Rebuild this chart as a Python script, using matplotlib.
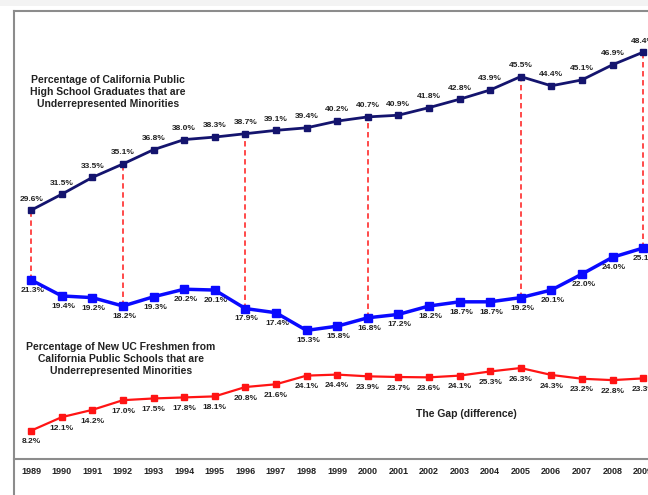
import matplotlib.pyplot as plt
from matplotlib.lines import Line2D
from matplotlib.patches import Rectangle

# Data
years = list(range(1989, 2010))
hs_grads = [29.6, 31.5, 33.5, 35.1, 36.8, 38.0, 38.3, 38.7, 39.1, 39.4, 40.2,
            40.7, 40.9, 41.8, 42.8, 43.9, 45.5, 44.4, 45.1, 46.9, 48.4]
uc_fresh = [21.3, 19.4, 19.2, 18.2, 19.3, 20.2, 20.1, 17.9, 17.4, 15.3, 15.8,
            16.8, 17.2, 18.2, 18.7, 18.7, 19.2, 20.1, 22.0, 24.0, 25.1]
gap = [8.2, 12.1, 14.2, 17.0, 17.5, 17.8, 18.1, 20.8, 21.6, 24.1, 24.4,
       23.9, 23.7, 23.6, 24.1, 25.3, 26.3, 24.3, 23.2, 22.8, 23.3]
gap_years = [1989, 1992, 1996, 2000, 2005, 2009]

W, H = 648, 495
fig = plt.figure(figsize=(W / 100, H / 100), dpi=100)
plt.rcParams['font.family'] = ['Liberation Sans', 'DejaVu Sans']

# plot area in pixel terms: left 14, top 11, bottom 459, right past the edge
ax = fig.add_axes([14 / W, 1 - 459 / H, (W - 14) / W, (459 - 11) / H])
ax.set_xlim(1988.44, 2009.16)
ax.set_ylim(0, 53.3)
ax2 = ax.twinx()
ax2.set_ylim(0, 129.5)

for a in (ax, ax2):
    for s in a.spines.values():
        s.set_visible(False)
    a.set_yticks([])
ax.spines['bottom'].set_visible(True)
ax.spines['bottom'].set_color('#8c8c8c')
ax.spines['bottom'].set_linewidth(1.5)
ax.set_xticks(years)
ax.set_xticklabels([str(y) for y in years], fontsize=6.5, fontweight='bold', color='#222222')
ax.tick_params(axis='x', length=0, pad=6)

# red dashed gaps between the two lines
for y in gap_years:
    i = years.index(y)
    ax.plot([y, y], [uc_fresh[i], hs_grads[i]], color='#ff3b3b', lw=1.3,
            ls=(0, (3, 2)), zorder=1)

ax.plot(years, hs_grads, color='#14146e', lw=2, marker='s', ms=4, zorder=3)
ax.plot(years, uc_fresh, color='#0a0aff', lw=2.5, marker='s', ms=5.5, zorder=3)
ax2.plot(years, gap, color='#ff1414', lw=1.6, marker='s', ms=4.5, zorder=3)

lab = dict(fontsize=6, fontweight='bold', color='#222222', ha='center')
for x, v in zip(years, hs_grads):
    ax.annotate(f'{v:.1f}%', (x, v), xytext=(0, 5.5), textcoords='offset points',
                va='bottom', **lab)
for x, v in zip(years, uc_fresh):
    ax.annotate(f'{v:.1f}%', (x, v), xytext=(1, -5), textcoords='offset points',
                va='top', **lab)
for x, v in zip(years, gap):
    ax2.annotate(f'{v:.1f}%', (x, v), xytext=(0, -5.5), textcoords='offset points',
                 va='top', **lab)

fig.text(108 / W, 1 - 92 / H,
         'Percentage of California Public\nHigh School Graduates that are\nUnderrepresented Minorities',
         ha='center', va='center', fontsize=7.5, fontweight='bold', color='#222222',
         linespacing=1.25)
fig.text(121 / W, 1 - 359 / H,
         'Percentage of New UC Freshmen from\nCalifornia Public Schools that are\nUnderrepresented Minorities',
         ha='center', va='center', fontsize=7.5, fontweight='bold', color='#222222',
         linespacing=1.25)
fig.text(466 / W, 1 - 414 / H, 'The Gap (difference)', ha='center', va='center',
         fontsize=7.5, fontweight='bold', color='#222222')

# outer chart frame and the light strip at the very top
fig.add_artist(Rectangle((0, 1 - 6 / H), 1, 6 / H, transform=fig.transFigure,
                         color='#f3f3f3', lw=0))
fig.add_artist(Line2D([14 / W, 1], [1 - 11 / H, 1 - 11 / H], color='#8c8c8c',
                      lw=1.5, transform=fig.transFigure))
fig.add_artist(Line2D([14 / W, 14 / W], [0, 1 - 11 / H], color='#8c8c8c',
                      lw=1.5, transform=fig.transFigure))

fig.savefig('out.png', dpi=100)
